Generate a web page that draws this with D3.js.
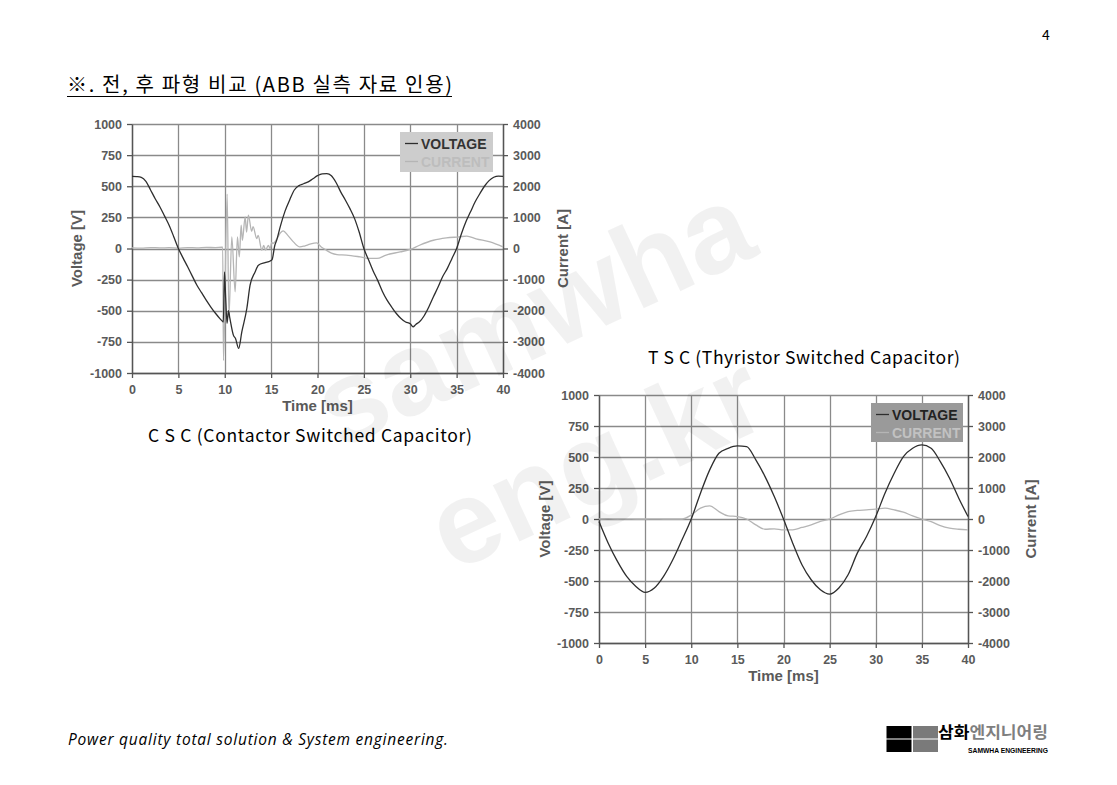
<!DOCTYPE html>
<html><head><meta charset="utf-8">
<script src="https://cdn.jsdelivr.net/npm/d3@7/dist/d3.min.js"></script>
<style>html,body{margin:0;padding:0;background:#fff;} svg{display:block;}</style>
</head><body><svg id="c" width="1117" height="785"></svg>
<script>
// ---------- data ----------
const timeTicks = [0, 5, 10, 15, 20, 25, 30, 35, 40];
const voltTicks = [-1000, -750, -500, -250, 0, 250, 500, 750, 1000];
const currTicks = [-4000, -3000, -2000, -1000, 0, 1000, 2000, 3000, 4000];

// CSC (Contactor Switched Capacitor)
const cscVoltTime = [0,0.5,1,1.5,2,2.5,3,3.5,4,4.5,5,5.5,6,6.5,7,7.5,8,8.5,9,9.5,9.76,9.85,9.97,10.1,10.25,10.4,10.55,10.93,11.16,11.5,11.84,12.38,12.73,13.27,13.63,14.35,14.9,15.1,15.4,15.6,16,16.5,17,17.5,18,18.5,19,19.5,20,20.5,21,21.5,22,22.5,23,23.5,24,24.5,25,25.5,26,26.5,27,27.5,28,28.5,29,29.5,30,30.3,30.6,31,31.5,32,32.5,33,33.5,34,34.5,35,35.5,36,36.5,37,37.5,38,38.5,39,39.5,40];
const cscVoltage  = [580,578,572,540,470,400,335,262,187,95,0,-75,-147,-222,-295,-355,-415,-470,-520,-565,-585,-590,-188,-400,-600,-500,-560,-696,-723,-803,-670,-482,-295,-188,-134,-113,-100,-90,26,67,180,300,390,470,505,520,535,560,585,600,602,585,530,455,390,320,240,130,0,-90,-180,-258,-345,-415,-470,-522,-562,-590,-605,-629,-610,-589,-540,-470,-388,-310,-225,-160,-80,0,115,215,295,375,440,500,545,572,582,580];
const cscCurrTime = [0,1,2,3,4,5,6,7,8,9,9.7,9.78,9.86,10.26,10.45,10.76,11.12,11.37,11.57,11.77,11.9,12.2,12.35,12.55,12.9,13.05,13.45,13.6,14.0,14.2,14.4,14.7,14.9,15.06,15.2,15.6,16.0,16.3,16.8,17.4,18.1,18.6,19.2,19.9,20.4,20.95,21.5,22.1,23.1,24.6,25.65,26.4,27.4,28.9,30,31,32.5,33.9,35.3,36.1,37.1,38.6,40];
const cscCurrent  = [20,10,30,20,25,15,30,20,35,30,40,40,-3600,1750,-2200,370,-1390,370,-270,750,260,1015,530,1070,550,700,320,420,-55,100,-50,100,0,200,160,300,500,565,420,213,50,80,140,180,50,-53,-150,-195,-210,-270,-320,-320,-210,-110,-30,105,265,340,375,400,310,210,50];

// TSC (Thyristor Switched Capacitor)
const tscTime    = [0,1,2,3,4,5,6,7,8,9,10,11,12,13,14,15,16,17,18,19,20,21,22,23,24,25,26,27,28,29,30,31,32,33,34,35,36,37,38,39,40];
const tscVoltage = [-20,-195,-342,-463,-544,-592,-557,-463,-329,-168,0,208,396,530,570,589,584,477,342,181,0,-195,-369,-490,-571,-606,-557,-450,-275,-141,20,208,369,503,570,597,570,463,329,168,20];
const tscCurrent = [0,10,0,5,0,0,5,0,0,0,130,350,425,240,100,80,0,-190,-330,-316,-350,-350,-274,-190,-80,0,130,240,275,295,317,350,295,220,100,0,-86,-215,-295,-330,-350];

const seriesNames = ["VOLTAGE", "CURRENT"];

// ---------- drawing ----------
const svg = d3.select("#c");
svg.append("rect").attr("width",1117).attr("height",785).attr("fill","#fff");

const axisFont = "'Liberation Sans', Arial, sans-serif";
const korFont = "'Noto Sans CJK KR', 'Noto Sans', sans-serif";
const labelColor = "#5a5a5a";
const plain = d => String(d);

function drawChart(cfg) {
  const g = svg.append("g");
  const x = d3.scaleLinear().domain([0, 40]).range([cfg.left, cfg.right]);
  const yV = d3.scaleLinear().domain([-1000, 1000]).range([cfg.bottom, cfg.top]);
  const yA = d3.scaleLinear().domain([-4000, 4000]).range([cfg.bottom, cfg.top]);

  // grid
  g.append("g").selectAll("line").data(timeTicks).join("line")
    .attr("x1", d => Math.round(x(d)) + 0.5).attr("x2", d => Math.round(x(d)) + 0.5)
    .attr("y1", cfg.top).attr("y2", cfg.bottom)
    .attr("stroke", "#8a8a8a").attr("stroke-width", 1.3);
  g.append("g").selectAll("line").data(voltTicks).join("line")
    .attr("x1", cfg.left).attr("x2", cfg.right)
    .attr("y1", d => Math.round(yV(d)) + 0.5).attr("y2", d => Math.round(yV(d)) + 0.5)
    .attr("stroke", "#8a8a8a").attr("stroke-width", 1.3);

  // axes
  const styleAxis = sel => {
    sel.select(".domain").attr("stroke", "#555").attr("stroke-width", 1.4);
    sel.selectAll(".tick line").attr("stroke", "#555").attr("stroke-width", 1.3);
    sel.selectAll(".tick text").attr("fill", labelColor)
      .attr("font-family", axisFont).attr("font-weight", "bold").attr("font-size", "12.5px");
  };
  g.append("g").attr("transform", `translate(0,${cfg.bottom})`)
    .call(d3.axisBottom(x).tickValues(timeTicks).tickFormat(plain).tickSizeInner(5).tickSizeOuter(0).tickPadding(7))
    .call(styleAxis);
  g.append("g").attr("transform", `translate(${cfg.left},0)`)
    .call(d3.axisLeft(yV).tickValues(voltTicks).tickFormat(plain).tickSizeInner(5).tickSizeOuter(0).tickPadding(5))
    .call(styleAxis);
  g.append("g").attr("transform", `translate(${cfg.right},0)`)
    .call(d3.axisRight(yA).tickValues(currTicks).tickFormat(plain).tickSizeInner(5).tickSizeOuter(0).tickPadding(5))
    .call(styleAxis);

  // axis titles
  g.append("text").attr("x", (cfg.left + cfg.right) / 2).attr("y", cfg.bottom + 38)
    .attr("text-anchor", "middle").attr("font-family", axisFont).attr("font-weight", "bold")
    .attr("font-size", "15px").attr("fill", labelColor).text("Time [ms]");
  g.append("text").attr("transform", `translate(${cfg.vLabelX},${(cfg.top + cfg.bottom) / 2}) rotate(-90)`)
    .attr("text-anchor", "middle").attr("dy", "0.35em").attr("font-family", axisFont).attr("font-weight", "bold")
    .attr("font-size", "15px").attr("fill", labelColor).text("Voltage [V]");
  g.append("text").attr("transform", `translate(${cfg.aLabelX},${(cfg.top + cfg.bottom) / 2}) rotate(-90)`)
    .attr("text-anchor", "middle").attr("dy", "0.35em").attr("font-family", axisFont).attr("font-weight", "bold")
    .attr("font-size", "15px").attr("fill", labelColor).text("Current [A]");

  // lines
  const lineV = d3.line().curve(d3.curveMonotoneX).x(d => x(d[0])).y(d => yV(d[1]));
  const lineA = d3.line().curve(d3.curveMonotoneX).x(d => x(d[0])).y(d => yA(d[1]));
  g.append("path").datum(d3.zip(cfg.cT, cfg.cV)).attr("d", lineA)
    .attr("fill", "none").attr("stroke", "#b5b5b5").attr("stroke-width", 1.3).attr("stroke-linejoin", "round");
  g.append("path").datum(d3.zip(cfg.vT, cfg.vV)).attr("d", lineV)
    .attr("fill", "none").attr("stroke", "#2e2e2e").attr("stroke-width", 1.3).attr("stroke-linejoin", "round");

  // legend
  const L = cfg.legend;
  const lg = g.append("g");
  lg.append("rect").attr("x", L.x).attr("y", L.y).attr("width", L.w).attr("height", L.h).attr("fill", L.fill);
  const colors = [L.vColor, L.cColor];
  const lineCols = ["#2e2e2e", "#b5b5b5"];
  seriesNames.forEach((name, i) => {
    const yy = L.y + 11.5 + i * 18;
    lg.append("line").attr("x1", L.x + 5).attr("x2", L.x + 18).attr("y1", yy).attr("y2", yy)
      .attr("stroke", lineCols[i]).attr("stroke-width", 1.3);
    lg.append("text").attr("x", L.x + 21).attr("y", yy).attr("dy", "0.36em")
      .attr("font-family", axisFont).attr("font-weight", "bold").attr("font-size", "14px")
      .attr("fill", colors[i]).text(name);
  });
}

drawChart({
  left: 132, right: 503, top: 124, bottom: 373,
  vLabelX: 77, aLabelX: 563,
  vT: cscVoltTime, vV: cscVoltage, cT: cscCurrTime, cV: cscCurrent,
  legend: { x: 400, y: 132, w: 93, h: 40, fill: "#cdcdcd", vColor: "#333", cColor: "#bdbdbd" }
});
drawChart({
  left: 599, right: 968, top: 395, bottom: 643,
  vLabelX: 545, aLabelX: 1031,
  vT: tscTime, vV: tscVoltage, cT: tscTime, cV: tscCurrent,
  legend: { x: 871, y: 403, w: 92, h: 39, fill: "#9a9a9a", vColor: "#222", cColor: "#c2c2c2" }
});

// ---------- page texts ----------
svg.append("text").attr("x", 1046).attr("y", 40).attr("text-anchor", "middle")
  .attr("font-family", korFont).attr("font-size", "14px").attr("fill", "#000").text("4");

svg.append("text").attr("x", 67).attr("y", 92).attr("font-family", korFont).attr("font-size", "20px")
  .attr("fill", "#000").attr("textLength", 385).attr("lengthAdjust", "spacing")
  .text("※. 전, 후 파형 비교 (ABB 실측 자료 인용)");
svg.append("line").attr("x1", 67).attr("x2", 452).attr("y1", 96.5).attr("y2", 96.5)
  .attr("stroke", "#000").attr("stroke-width", 1.2);

svg.append("text").attr("x", 148).attr("y", 442).attr("font-family", korFont).attr("font-size", "17.5px")
  .attr("fill", "#000").attr("textLength", 324).attr("lengthAdjust", "spacing")
  .text("C S C (Contactor Switched Capacitor)");
svg.append("text").attr("x", 648).attr("y", 364).attr("font-family", korFont).attr("font-size", "17.5px")
  .attr("fill", "#000").attr("textLength", 312).attr("lengthAdjust", "spacing")
  .text("T S C (Thyristor Switched Capacitor)");

svg.append("text").attr("x", 68).attr("y", 745).attr("font-family", "'Open Sans', 'Noto Sans', sans-serif")
  .attr("font-style", "italic").attr("font-size", "15.5px").attr("fill", "#000")
  .attr("textLength", 380).attr("lengthAdjust", "spacing")
  .text("Power quality total solution & System engineering.");

// logo
const logo = svg.append("g");
[[886.5, 726, "#000"], [913, 726, "#7a7a7a"], [886.5, 739.5, "#000"], [913, 739.5, "#7a7a7a"]].forEach(s => {
  logo.append("rect").attr("x", s[0]).attr("y", s[1]).attr("width", 25).attr("height", 12.5).attr("fill", s[2]);
});
const lt = logo.append("text").attr("x", 938).attr("y", 738).attr("font-family", korFont)
  .attr("font-size", "16px").attr("font-weight", "bold").attr("textLength", 110).attr("lengthAdjust", "spacingAndGlyphs");
lt.append("tspan").attr("fill", "#000").text("삼화");
lt.append("tspan").attr("fill", "#7f7f7f").text("엔지니어링");
logo.append("text").attr("x", 968).attr("y", 752.5).attr("font-family", axisFont).attr("font-weight", "bold")
  .attr("font-size", "7px").attr("fill", "#000").attr("textLength", 80).attr("lengthAdjust", "spacingAndGlyphs")
  .text("SAMWHA ENGINEERING");

// watermark
const wm = svg.append("g").attr("font-family", "'Liberation Sans', Arial, sans-serif")
  .attr("font-weight", "bold").attr("font-size", "118px").attr("fill", "#000").attr("fill-opacity", 0.055)
  .attr("text-anchor", "middle");
wm.append("text").attr("transform", "translate(550,352) rotate(-25)").text("samwha");
wm.append("text").attr("transform", "translate(613,498) rotate(-25)").text("eng.kr");
</script>
</body></html>
